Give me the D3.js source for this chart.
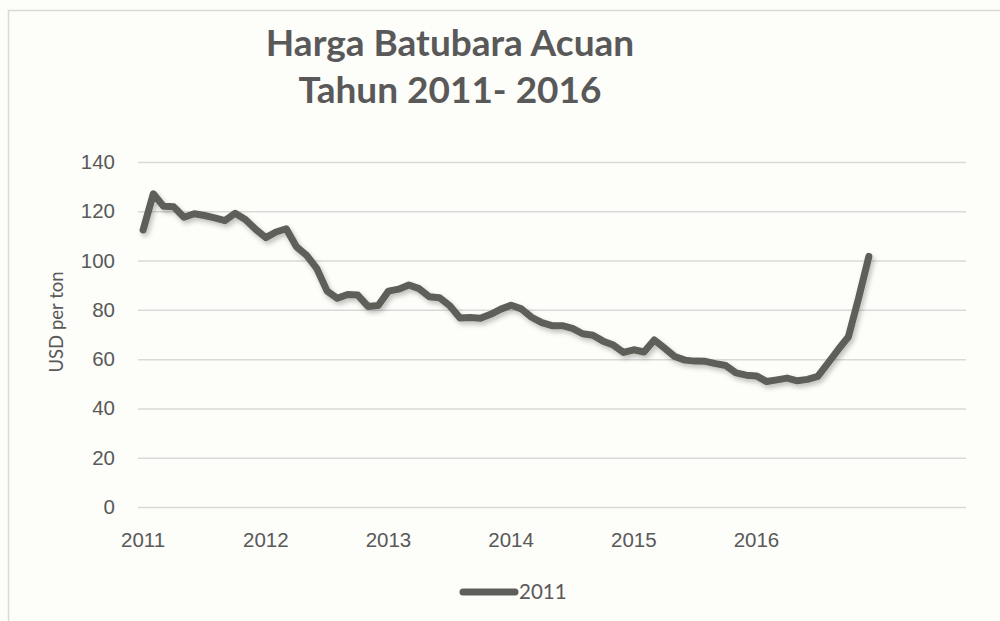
<!DOCTYPE html>
<html>
  <head>
    <meta charset="UTF-8">
    <style>
      body {
        margin: 0;
        background-color: #fdfdf9;
        font-family: Lato, "Open Sans", sans-serif;
      }

      .tick-label {
        font-size: 20.5px;
        fill: #595959;
      }

      .title {
        font-size: 37px;
        font-weight: bold;
        fill: #595959;
      }
    </style>
    <script src="https://d3js.org/d3.v7.min.js"></script>
  </head>

  <body>
    <svg id="chart"></svg>

    <script type="text/javascript">
      // monthly HBA values, Jan 2011 .. Dec 2016 (USD per ton)
      let months2011 = [112.4, 127.1, 122.0, 121.8, 117.6, 119.0, 118.3, 117.3, 116.2, 119.2, 116.7, 112.7]
      let months2012 = [109.3, 111.6, 112.9, 105.6, 102.1, 96.7, 87.6, 84.7, 86.2, 86.0, 81.4, 81.8]
      let months2013 = [87.6, 88.4, 90.1, 88.6, 85.3, 84.9, 81.7, 76.7, 76.9, 76.6, 78.2, 80.3]
      let months2014 = [81.9, 80.4, 77.0, 74.8, 73.6, 73.6, 72.5, 70.3, 69.7, 67.3, 65.7, 62.7]
      let months2015 = [63.8, 62.9, 67.8, 64.5, 61.1, 59.6, 59.2, 59.1, 58.2, 57.4, 54.4, 53.5]
      let months2016 = [53.2, 50.9, 51.6, 52.3, 51.2, 51.8, 53.0, 58.4, 63.9, 69.1, 84.9, 101.7]

      let yearLabels = ['2011', '2012', '2013', '2014', '2015', '2016']
      let yTicks = [0, 20, 40, 60, 80, 100, 120, 140]
      let seriesName = '2011'
      let categoryCount = 81

      let values = [].concat(months2011, months2012, months2013, months2014, months2015, months2016)

      function getConfig() {
        let width = 1000
        let height = 621
        let plot = {left: 138, right: 966, top: 162, bottom: 507}

        let container = d3.select('#chart')
          .attr('width', width)
          .attr('height', height)

        return {width, height, plot, container}
      }

      function getScales(config) {
        let {plot} = config
        let x = d3.scaleBand()
          .domain(d3.range(categoryCount))
          .range([plot.left, plot.right])
        let y = d3.scaleLinear()
          .domain([0, 140])
          .range([plot.bottom, plot.top])
        return {x, y}
      }

      function drawFrame(config) {
        let {container} = config
        container.append('rect')
          .attr('x', 8.5)
          .attr('y', 10.5)
          .attr('width', 1100)
          .attr('height', 700)
          .attr('fill', '#fdfdf9')
          .attr('stroke', '#d9d9d9')
          .attr('stroke-width', 1.5)

        container.append('text')
          .attr('class', 'title')
          .attr('x', 450)
          .attr('y', 56)
          .attr('text-anchor', 'middle')
          .text('Harga Batubara Acuan')

        container.append('text')
          .attr('class', 'title')
          .attr('x', 450)
          .attr('y', 103)
          .attr('text-anchor', 'middle')
          .text('Tahun 2011- 2016')
      }

      function drawAxes(config, scales) {
        let {container, plot} = config
        let {x, y} = scales

        let yAxis = container.append('g')
          .attr('transform', `translate(${plot.left}, 0)`)
          .call(d3.axisLeft(y)
            .tickValues(yTicks)
            .tickSize(-(plot.right - plot.left))
            .tickPadding(23))
        yAxis.select('.domain').remove()
        yAxis.selectAll('.tick line')
          .attr('stroke', '#d9d9d9')
          .attr('stroke-width', 1.5)
        yAxis.selectAll('.tick text')
          .attr('class', 'tick-label')
          .attr('font-family', null)
          .attr('font-size', null)

        let xAxis = container.append('g')
          .attr('transform', `translate(0, ${plot.bottom})`)
          .call(d3.axisBottom(x)
            .tickValues(yearLabels.map((d, i) => i * 12))
            .tickFormat((d, i) => yearLabels[i])
            .tickSize(0)
            .tickPadding(25))
        xAxis.select('.domain').remove()
        xAxis.selectAll('.tick text')
          .attr('class', 'tick-label')
          .attr('font-family', null)
          .attr('font-size', null)

        container.append('text')
          .attr('class', 'tick-label')
          .attr('transform', `translate(63, 322) rotate(-90)`)
          .attr('text-anchor', 'middle')
          .style('font-size', '18.5px')
          .text('USD per ton')
      }

      function drawLine(config, scales) {
        let {container} = config
        let {x, y} = scales

        let defs = container.append('defs')
        let filter = defs.append('filter')
          .attr('id', 'shadow')
          .attr('x', '-5%').attr('y', '-5%')
          .attr('width', '110%').attr('height', '120%')
        filter.append('feDropShadow')
          .attr('dx', 2).attr('dy', 3)
          .attr('stdDeviation', 2.5)
          .attr('flood-color', '#000')
          .attr('flood-opacity', 0.25)

        let line = d3.line()
          .x((d, i) => x(i) + x.bandwidth() / 2)
          .y(d => y(d))

        container.append('path')
          .datum(values)
          .attr('d', line)
          .attr('fill', 'none')
          .attr('stroke', '#5f5e5a')
          .attr('stroke-width', 7)
          .attr('stroke-linejoin', 'round')
          .attr('stroke-linecap', 'round')
          .attr('filter', 'url(#shadow)')
      }

      function drawLegend(config) {
        let {container} = config
        let legend = container.append('g')
          .attr('transform', 'translate(460, 592)')

        legend.append('line')
          .attr('x1', 3).attr('x2', 55)
          .attr('stroke', '#5f5e5a')
          .attr('stroke-width', 7)
          .attr('stroke-linecap', 'round')

        legend.append('text')
          .attr('class', 'tick-label')
          .attr('x', 59)
          .attr('dy', '0.35em')
          .text(seriesName)
      }

      let config = getConfig()
      let scales = getScales(config)
      drawFrame(config)
      drawAxes(config, scales)
      drawLine(config, scales)
      drawLegend(config)
    </script>
  </body>
</html>
